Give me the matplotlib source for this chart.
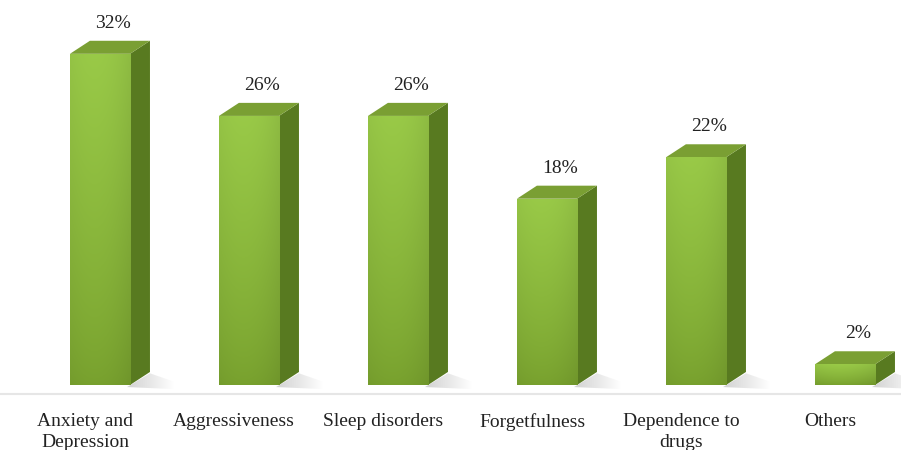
import numpy as np
import matplotlib.pyplot as plt
from matplotlib.patches import Polygon

categories = ["Anxiety and\nDepression", "Aggressiveness", "Sleep disorders",
              "Forgetfulness", "Dependence to\ndrugs", "Others"]
values = [32, 26, 26, 18, 22, 2]
labels = ["32%", "26%", "26%", "18%", "22%", "2%"]

plt.rcParams['font.family'] = ['Liberation Serif', 'DejaVu Serif']

fig = plt.figure(figsize=(9.01, 4.5), dpi=100)
ax = fig.add_axes([0, 0, 1, 1])
ax.set_xlim(-0.671, 5.376)
ax.set_ylim(-6.28, 37.2)
ax.axis('off')

w = 0.403      # front width
dx = 0.134     # depth in x
dy = 1.26      # depth in y

side_c = "#587a20"
top_c = "#7a9f33"

# floor line
ax.plot([-0.671, 5.376], [-0.9, -0.9], color="#e6e6e6", lw=1.5, zorder=0)

x = np.arange(len(values))
bars = ax.bar(x, values, width=w, color="#8ab53b", zorder=3, linewidth=0)

# front face gradient: light at top, more olive at bottom
gv = np.linspace(0, 1, 100)          # 0 = bottom, 1 = top
gh = np.linspace(0, 1, 50)
cb = np.array([0.47, 0.63, 0.18])
ct = np.array([0.60, 0.79, 0.28])
img = cb[None, None, :] + (ct - cb)[None, None, :] * gv[:, None, None] ** 0.8
img = img * (1 - 0.05 * (gh[None, :, None] - 0.4) ** 2 * 4)
img = np.clip(img, 0, 1)

# shadow image, fading to the right
sh_img = np.zeros((10, 60, 4))
sh_img[..., :3] = 0.6
sh_img[..., 3] = np.linspace(0.45, 0.0, 60)[None, :]

for b, xi, v, lab in zip(bars, x, values, labels):
    x0 = xi - w / 2
    x1 = xi + w / 2
    sp = Polygon([(x1 - 0.02, -0.2), (x1 + dx, dy * 0.9), (x1 + 0.3, 0.3), (x1 + 0.3, -0.4)],
                 closed=True, transform=ax.transData, visible=False)
    ax.add_patch(sp)
    si = ax.imshow(sh_img, extent=[x1 - 0.02, x1 + 0.3, -0.4, dy], aspect='auto',
                   zorder=1, interpolation='bilinear')
    si.set_clip_path(sp)
    im = ax.imshow(img, extent=[x0, x1, 0, v], aspect='auto', zorder=4,
                   interpolation='bilinear', origin='lower')
    im.set_clip_path(b)
    side = Polygon([(x1, 0), (x1 + dx, dy), (x1 + dx, v + dy), (x1, v)],
                   closed=True, color=side_c, lw=0, zorder=3)
    ax.add_patch(side)
    top = Polygon([(x0, v), (x0 + dx, v + dy), (x1 + dx, v + dy), (x1, v)],
                  closed=True, color=top_c, lw=0, zorder=3)
    ax.add_patch(top)
    ax.text(xi + dx / 2 + 0.02, v + dy + 0.85, lab,
            ha='center', va='bottom', fontsize=14, color="#222222")

for xi, c in zip(x, categories):
    ax.text(xi - 0.1, -2.75, c, ha='center', va='top', fontsize=14,
            color="#222222", linespacing=1.25)

fig.savefig("out.png", dpi=100, facecolor="white")
